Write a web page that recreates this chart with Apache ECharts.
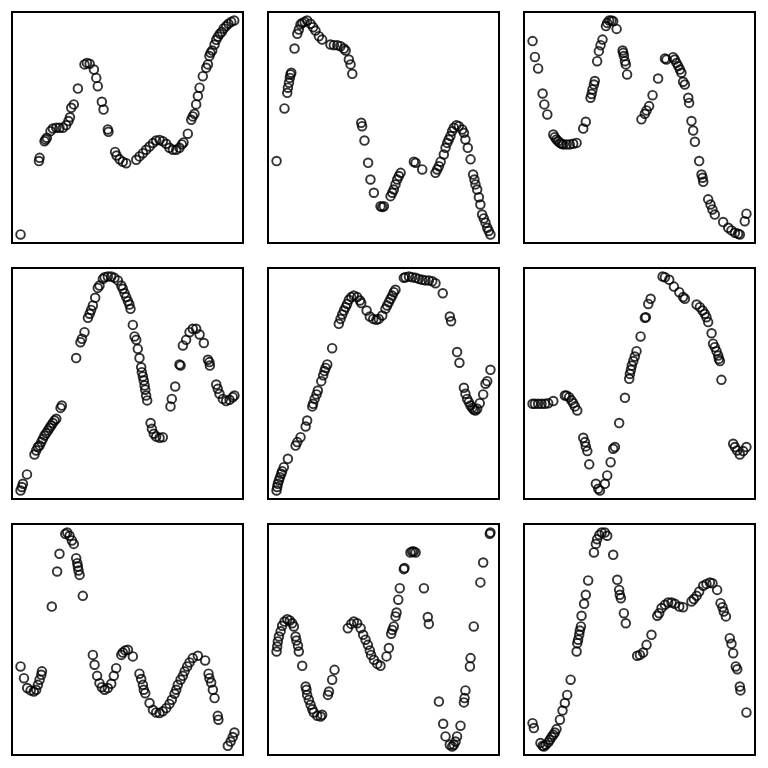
<!DOCTYPE html>
<html>
<head>
<meta charset="utf-8">
<script src="https://cdn.jsdelivr.net/npm/echarts@6/dist/echarts.min.js"></script>
<style>html,body{margin:0;padding:0;background:#fff}#c{width:768px;height:768px}</style>
</head>
<body>
<div id="c"></div>
<script>
const p1x=[0,8.6,8.9,11.2,11.7,12.3,14.0,15.1,16.7,18.2,19.8,21.3,22.4,23.1,23.7,24.9,26.8,29.9,31.0,32.3,34.3,35.4,36.1,38.0,38.8,40.8,41.1,44.2,44.9,46.3,47.8,49.4,54.1,55.6,57.2,58.7,60.3,61.9,63.4,65.0,66.5,68.1,69.6,71.2,72.8,74.3,75.4,76.2,78.2,79.8,80.5,81.3,82.1,82.9,83.7,85.2,86.8,87.6,88.3,88.8,89.6,90.7,91.5,92.3,93.2,94.1,95.0,96.1,97.2,98.5,99.9];
const p1y=[0,34.3,35.8,43.6,44.4,45.2,48.3,49.5,49.9,49.9,49.9,51.1,53.0,54.8,59.2,60.8,68.2,79.5,80.2,79.8,77.1,73.2,69.3,62.0,58.4,49.1,48.0,38.6,36.9,35.1,34.0,33.3,34.9,36.5,38.0,39.6,41.1,42.7,43.9,44.2,43.6,42.4,40.5,39.6,39.6,40.5,42.1,43.0,47.1,53.6,55.2,56.4,60.8,64.7,68.6,74.0,77.9,79.5,83.4,84.9,86.0,88.8,91.0,92.5,93.8,94.7,96.3,97.4,98.5,99.4,100];

const p2x=[0,3.7,5.0,5.3,5.8,6.2,6.5,6.9,8.4,9.7,10.4,11.2,12.0,13.1,14.3,15.9,17.1,18.2,19.8,21.3,25.2,26.8,28.4,29.9,31.5,32.3,33.8,34.6,35.4,39.6,40.0,41.1,42.8,43.9,45.5,48.6,49.4,50.2,53.3,54.1,54.8,55.6,56.4,57.2,58.0,64.2,65.0,68.1,74.3,75.1,75.9,76.7,78.2,79.0,79.8,80.5,81.3,82.1,82.9,84.1,85.2,86.8,87.6,88.3,89.4,90.7,91.9,92.5,93.0,93.8,94.6,95.3,96.1,96.9,97.7,98.5,99.2,100];
const p2y=[34.3,58.9,66.2,68.6,70.9,73.2,74.8,75.6,86.9,93.8,95.8,98.2,98.9,99.4,100,98.5,96.9,95.3,92.7,91.1,88.8,88.5,88.5,88.0,86.9,86.0,81.8,79.5,75.1,52.2,50.6,43.9,33.5,25.7,19.5,13.2,12.8,13.2,17.9,19.5,21.0,23.4,25.7,27.3,28.8,34.0,33.5,30.4,28.8,30.4,31.9,34.0,37.4,40.5,42.8,44.4,46.0,48.3,49.9,51.1,50.6,49.1,47.5,44.4,40.5,35.1,28.0,25.7,23.4,21.0,17.4,14.0,9.3,7.5,5.5,3.1,1.6,0];

const p3x=[0,1.1,2.6,4.7,5.5,6.9,9.7,10.4,11.2,12.0,12.8,13.6,14.3,15.9,17.4,19.0,20.6,23.7,24.9,27.1,27.6,28.0,28.7,29.1,30.2,31.0,31.8,32.7,34.3,34.9,35.8,36.9,37.7,39.3,42.1,42.4,42.7,43.2,43.6,44.2,50.9,52.5,53.3,54.5,56.1,58.7,61.9,62.6,65.7,66.5,67.3,68.1,68.9,69.6,70.4,71.2,72.8,73.2,74.3,75.1,75.9,77.9,79.0,79.5,79.8,82.1,83.2,84.1,85.2,89.1,91.5,93.0,94.6,96.1,96.9,99.2,100];
const p3y=[90.4,83.0,77.6,65.9,60.8,56.1,46.7,45.5,44.4,43.6,42.8,42.4,42.1,42.1,42.1,42.4,42.8,49.5,52.7,63.9,65.7,67.8,70.1,71.7,81.0,85.7,88.5,91.1,97.4,98.9,100,100,99.7,96.1,86.0,84.9,83.4,81.0,79.5,74.8,53.8,56.4,58.0,60.0,65.1,72.9,82.3,81.8,82.9,81.8,80.2,78.7,77.1,75.6,71.4,70.1,63.9,61.5,53.0,48.6,43.3,34.3,28.0,26.5,24.6,16.4,14.0,11.7,9.3,5.8,3.1,1.9,0.8,0.3,0,6.2,9.7];

const p4x=[0,0.6,1.1,3.0,6.5,7.3,8.1,8.9,9.7,10.4,11.2,12.0,12.8,13.6,14.3,15.1,15.9,16.7,18.7,19.3,26.0,28.0,28.7,29.9,31.5,32.3,33.0,33.8,34.9,36.1,36.9,38.5,39.3,40.8,42.4,43.9,45.5,47.1,47.8,48.6,49.4,50.2,50.9,51.4,52.5,53.3,54.1,54.8,55.6,56.4,56.7,57.2,57.6,58.0,58.3,58.7,59.2,60.8,61.4,62.3,63.4,65.0,66.5,70.1,70.7,72.3,74.3,74.8,75.9,77.4,79.0,80.5,82.1,83.7,85.7,87.6,88.3,88.5,91.5,92.2,93.0,94.6,96.1,97.7,99.2,100];
const p4y=[0,1.6,3.1,7.5,16.8,18.7,20.3,21.0,22.6,24.1,25.7,26.8,28.0,29.3,30.4,31.5,32.7,33.5,38.6,39.7,61.9,69.3,70.9,74.0,80.7,82.6,84.4,86.5,90.1,94.7,95.8,98.9,99.7,100,100,99.4,98.2,95.8,94.3,92.2,90.4,88.5,86.9,84.9,77.4,72.0,70.4,66.2,61.9,57.6,55.3,53.3,51.4,49.1,47.1,44.4,42.1,31.5,28.8,26.5,25.2,24.6,24.9,39.3,42.8,48.6,58.9,58.4,67.8,70.4,74.0,75.6,75.6,72.9,68.9,61.1,60.0,58.4,49.5,47.5,45.2,42.8,41.8,42.4,43.6,44.4];

const p5x=[0,0.3,0.6,1.1,1.6,2.2,2.6,3.4,5.3,8.9,9.7,11.2,13.6,14.3,16.7,17.1,17.8,18.7,19.3,20.9,21.8,22.4,22.9,23.7,26.0,29.1,29.9,30.7,31.5,32.3,33.0,33.8,34.9,36.1,37.7,39.0,39.6,42.1,43.6,45.2,46.7,47.8,49.4,50.9,51.7,52.5,53.3,54.1,54.8,55.6,59.5,60.3,61.9,63.4,65.0,66.5,68.1,69.6,71.2,72.8,74.3,77.7,81.0,81.6,84.4,85.5,87.6,88.3,89.1,89.9,90.7,91.5,92.2,93.0,93.8,95.0,96.6,97.7,98.5,100];
const p5y=[0,1.6,3.1,4.7,6.2,7.8,9.0,10.9,14.8,21.0,22.6,24.9,29.9,32.7,39.3,40.5,42.8,44.9,46.7,51.1,53.8,55.8,57.3,58.9,66.5,77.9,80.2,82.3,84.1,85.7,87.2,89.1,90.4,91.1,90.4,88.8,87.6,84.1,81.3,80.2,79.8,80.2,81.8,84.9,86.5,88.0,89.6,91.1,92.7,93.8,99.4,99.7,100,99.7,99.4,98.9,98.5,98.2,98.2,97.8,96.9,92.2,81.3,79.1,64.7,59.7,48.0,45.2,42.8,41.3,39.7,38.6,37.7,37.4,38.2,40.8,44.9,49.9,51.1,56.4];

const p6x=[0,1.1,2.6,4.2,5.8,7.3,9.7,15.1,15.9,17.1,18.2,19.0,19.8,20.9,23.7,24.5,24.9,25.6,26.5,29.6,30.7,31.5,33.8,34.9,36.5,37.7,38.5,40.5,43.2,45.2,45.5,46.0,46.4,47.1,47.8,48.6,50.5,52.5,53.0,54.1,55.2,60.8,61.9,63.9,66.1,68.6,70.4,71.2,76.7,78.2,79.5,80.5,81.3,82.1,83.7,84.4,85.2,86.0,86.8,87.1,87.6,88.3,93.8,94.6,95.7,96.9,98.5,100];
const p6y=[40.5,40.5,40.5,40.5,40.5,40.8,41.8,44.4,44.4,43.6,42.1,40.8,39.3,37.4,24.6,22.6,20.6,18.4,12.2,3.1,0.8,0,3.1,7.0,13.2,19.5,20.3,31.5,43.3,52.2,54.5,56.4,58.4,60.5,62.6,65.1,72.0,80.7,81.0,87.2,89.6,100,99.7,98.5,95.3,92.7,90.4,89.6,86.9,85.7,84.1,82.6,81.0,78.7,73.5,68.6,67.0,65.1,63.1,61.5,60.5,51.7,21.8,20.3,18.7,16.8,18.4,20.3];

const p7x=[0,1.6,3.1,4.7,6.2,7.3,8.1,8.9,9.7,10.0,14.6,17.1,18.2,20.9,21.8,22.9,24.0,24.9,26.0,26.5,26.8,27.1,27.6,29.1,33.8,34.6,35.8,36.9,38.0,39.3,40.8,42.4,43.6,44.7,47.1,47.8,48.9,50.2,52.5,55.6,56.4,57.2,57.6,58.3,60.3,61.9,63.4,65.0,66.5,68.1,69.6,70.7,72.0,72.8,73.5,74.8,75.9,76.7,77.9,79.0,80.5,82.9,86.3,87.9,88.3,89.1,89.9,90.7,92.2,92.5,96.9,98.2,99.2,100];
const p7y=[37.4,31.9,27.3,26.2,25.7,26.5,28.8,31.2,33.5,35.1,65.4,81.8,90.1,99.4,100,98.5,96.3,94.7,88.0,85.7,84.1,82.3,80.2,70.4,42.8,38.2,33.0,29.6,27.7,26.5,27.3,29.3,33.0,36.6,42.8,43.9,44.9,45.2,42.1,34.0,31.5,28.8,26.5,24.9,20.3,17.1,15.9,15.6,16.4,17.9,19.9,21.8,24.6,26.5,28.8,31.2,33.0,35.1,37.4,39.3,41.3,42.4,40.2,34.0,31.9,29.9,26.5,22.6,14.3,12.5,0.3,2.3,4.4,6.5];

const p8x=[0,0.3,0.6,1.1,1.9,2.6,3.7,5.0,6.2,7.3,8.1,8.9,9.3,10.0,10.4,12.0,13.6,14.0,14.3,15.1,15.9,16.7,17.4,19.0,20.6,21.3,24.0,24.5,26.0,27.1,33.3,34.9,36.1,37.7,39.3,40.5,41.6,42.7,43.6,44.2,45.5,47.1,48.6,51.4,52.5,53.6,54.1,54.8,55.6,56.1,56.9,57.6,59.5,59.8,62.6,63.4,64.2,65.0,68.9,70.7,71.2,75.9,77.9,79.0,81.0,82.1,82.9,83.7,84.4,86.0,87.6,87.9,88.3,90.4,90.7,92.2,95.3,96.6,99.7,100];
const p8y=[44.4,46.7,49.1,51.4,53.8,56.4,58.4,59.5,58.9,57.6,56.1,51.4,49.5,47.1,44.4,37.7,28.0,26.5,24.1,21.8,19.5,17.4,15.9,14.3,14.0,14.8,24.1,25.7,31.2,35.8,55.3,57.3,58.4,57.6,55.3,52.2,49.9,47.5,44.9,42.8,40.5,38.6,37.7,42.1,46.0,52.7,54.5,56.1,60.8,62.6,68.6,74.0,82.9,83.4,90.7,91.1,91.1,90.7,74.0,60.5,57.3,21.0,10.6,4.7,0.8,0,0.8,2.3,4.7,9.7,20.6,22.6,26.2,37.4,41.3,56.1,76.7,86.0,99.4,100];

const p9x=[0,0.6,3.7,4.7,5.3,6.2,7.3,8.1,8.9,9.7,10.4,11.2,12.8,14.0,15.1,16.2,17.8,20.6,20.9,21.3,21.8,22.1,22.6,22.9,24.1,24.9,26.0,28.7,29.6,30.2,31.2,32.3,33.8,34.9,37.7,39.6,40.5,40.8,41.3,42.7,43.6,48.9,50.2,51.7,53.3,55.6,58.3,59.2,60.3,61.9,63.4,65.0,66.5,68.6,70.4,74.3,75.4,76.7,77.9,79.8,81.3,82.9,84.1,86.3,87.9,88.8,89.4,90.4,92.2,93.0,93.8,95.0,95.7,96.9,97.2,100];
const p9y=[10.9,8.6,1.6,0.3,0,0.8,1.9,3.1,4.4,5.5,6.5,8.1,12.5,16.8,20.3,24.1,31.2,44.4,48.3,49.9,52.2,54.2,56.1,61.1,66.7,70.9,77.6,90.7,94.7,96.9,98.9,100,100,98.5,89.6,77.9,73.2,70.9,69.3,62.3,57.6,42.4,42.8,43.9,47.5,52.2,61.1,62.3,64.7,66.2,67.3,67.3,66.7,65.4,65.1,67.8,68.9,70.4,72.4,75.1,76.0,76.7,76.3,73.2,67.0,65.1,63.1,60.8,50.6,48.0,43.6,37.4,36.1,28.0,26.2,15.9];

const panels=[[p1x,p1y],[p2x,p2y],[p3x,p3y],[p4x,p4y],[p5x,p5y],[p6x,p6y],[p7x,p7y],[p8x,p8y],[p9x,p9y]];
const offs=[12,268,524];
const grid=[],xAxis=[],yAxis=[],series=[];
panels.forEach((p,i)=>{
  const r=Math.floor(i/3),c=i%3;
  grid.push({left:offs[c],top:offs[r],width:231,height:231,show:true,borderColor:'#000',borderWidth:2,backgroundColor:'#fff'});
  const ax={gridIndex:i,type:'value',min:-4,max:104,axisLine:{show:false},axisTick:{show:false},axisLabel:{show:false},splitLine:{show:false}};
  xAxis.push(Object.assign({},ax));
  yAxis.push(Object.assign({},ax));
  const n=Math.min(p[0].length,p[1].length);
  const d=[];for(let k=0;k<n;k++)d.push([p[0][k],p[1][k]]);
  series.push({type:'scatter',xAxisIndex:i,yAxisIndex:i,data:d,symbol:'circle',symbolSize:8.6,
    itemStyle:{color:'rgba(0,0,0,0)',borderColor:'#000',borderWidth:1.9},silent:true});
});
const chart=echarts.init(document.getElementById('c'),null,{renderer:'canvas'});
chart.setOption({animation:false,backgroundColor:'#fff',grid,xAxis,yAxis,series});
</script>
</body>
</html>
